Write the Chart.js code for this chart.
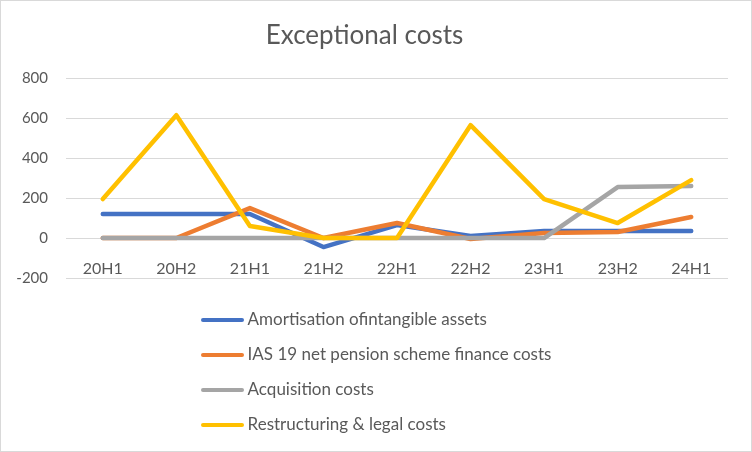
<!DOCTYPE html>
<html>
<head>
<meta charset="utf-8">
<script src="https://cdn.jsdelivr.net/npm/chart.js@4.4.1/dist/chart.umd.min.js"></script>
<style>
    body { margin: 0; background: #fff; }
    #frame {
        position: absolute; left: 0; top: 0;
        width: 752px; height: 452px;
        box-sizing: border-box;
        border: 1px solid #d9d9d9;
        background: #fff;
    }
    #box { position: absolute; left: 0; top: 0; width: 750px; height: 450px; }
    #legend {
        position: absolute; left: 0; right: 0; top: 300px;
        text-align: center;
        font-family: Lato, sans-serif; font-size: 17px; color: #595959;
    }
    #legend ul { display: inline-block; list-style: none; margin: 0; padding: 0; text-align: left; }
    #legend li { height: 35px; line-height: 35px; white-space: nowrap; }
    #legend .swatch {
        display: inline-block; width: 43px; height: 4px; border-radius: 2px;
        vertical-align: middle; margin-right: 4px; position: relative; top: -1px;
    }
</style>
</head>
<body>
<div id="frame">
    <div id="box"><canvas id="chart"></canvas></div>
    <div id="legend"></div>
</div>
<script>
    const periods = ['20H1', '20H2', '21H1', '21H2', '22H1', '22H2', '23H1', '23H2', '24H1'];
    const amortisation = [120, 120, 120, -45, 65, 10, 35, 35, 35];
    const pensionCosts = [0, 0, 150, 0, 75, -5, 25, 30, 105];
    const acquisitionCosts = [0, 0, 0, 0, 0, 0, 0, 255, 260];
    const restructuring = [195, 615, 60, 0, 0, 565, 195, 75, 290];

    const seriesNames = [
        'Amortisation ofintangible assets',
        'IAS 19 net pension scheme finance costs',
        'Acquisition costs',
        'Restructuring & legal costs'
    ];
    const seriesColors = ['#4472C4', '#ED7D31', '#A5A5A5', '#FFC000'];
    const seriesValues = [amortisation, pensionCosts, acquisitionCosts, restructuring];

    const datasets = seriesValues.map((values, i) => ({
        label: seriesNames[i],
        data: values,
        borderColor: seriesColors[i],
        backgroundColor: seriesColors[i],
        borderWidth: 4.5,
        borderCapStyle: 'round',
        borderJoinStyle: 'round',
        pointRadius: 0,
        tension: 0,
        order: 3 - i   // later series drawn on top, like Excel
    }));

    const chart = new Chart(document.getElementById('chart'), {
        type: 'line',
        data: { labels: periods, datasets: datasets },
        options: {
            responsive: true,
            maintainAspectRatio: false,
            animation: false,
            layout: { padding: { left: 0, right: 23, top: 0, bottom: 173 } },
            plugins: {
                legend: { display: false },
                tooltip: { enabled: false },
                title: {
                    display: true,
                    text: 'Exceptional costs',
                    color: '#595959',
                    font: { family: 'Lato', size: 26, weight: 'normal' },
                    padding: { top: 19, bottom: 27 }
                }
            },
            scales: {
                x: {
                    position: { y: 0 },
                    offset: true,
                    grid: { display: false },
                    border: { display: false },
                    ticks: {
                        color: '#595959',
                        font: { family: 'Lato', size: 16 },
                        padding: 13,
                        maxRotation: 0
                    }
                },
                y: {
                    min: -200,
                    max: 800,
                    grid: { color: '#d9d9d9', lineWidth: 1, drawTicks: false },
                    border: { display: false },
                    ticks: {
                        stepSize: 200,
                        color: '#595959',
                        font: { family: 'Lato', size: 15 },
                        padding: 18
                    },
                    afterFit: function(scale) { scale.width = 65; }
                }
            }
        }
    });

    // vertical legend, like the original
    const ul = document.createElement('ul');
    chart.data.datasets.forEach(ds => {
        const li = document.createElement('li');
        li.innerHTML = '<span class="swatch" style="background:' + ds.borderColor + '"></span>' + ds.label.replace('&', '&amp;');
        ul.appendChild(li);
    });
    document.getElementById('legend').appendChild(ul);
</script>
</body>
</html>
